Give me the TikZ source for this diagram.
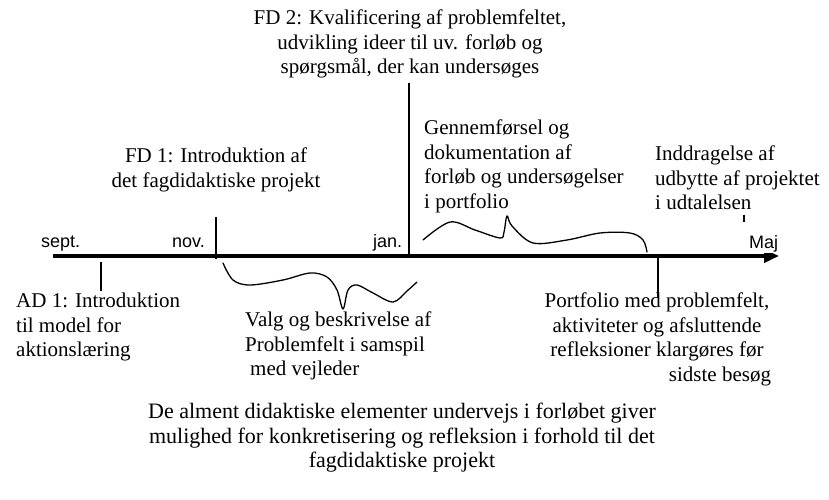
\documentclass[tikz,border=0pt]{standalone}
\usepackage{fontspec}
\setmainfont{Liberation Serif}
\setsansfont{Liberation Sans}
\usetikzlibrary{arrows.meta}
\begin{document}
\begin{tikzpicture}[x=1pt,y=-1pt,
  txt/.style={font=\fontsize{21}{24.5}\selectfont, inner sep=0pt},
  mon/.style={font=\sffamily\fontsize{18}{20}\selectfont, inner sep=0pt, anchor=base west},
  tickln/.style={line width=1.4pt},
  wave/.style={line width=1.3pt, line cap=round, line join=round}]
\useasboundingbox (0,0) rectangle (829,500);

% axis
\coordinate (axL) at (53,256);
\coordinate (axR) at (779,256);
\draw[line width=4.5pt, -{Triangle[length=15pt,width=13pt]}] (axL) -- (axR);

% ticks
\coordinate (t1a) at (101,262); \coordinate (t1b) at (101,291);
\coordinate (t2a) at (216,217); \coordinate (t2b) at (216,259);
\coordinate (t3a) at (409,83);  \coordinate (t3b) at (409,258);
\coordinate (t4a) at (658,258); \coordinate (t4b) at (658,298);
\coordinate (t5a) at (744,215); \coordinate (t5b) at (744,250);
\draw[tickln] (t1a) -- (t1b);
\draw[tickln] (t2a) -- (t2b);
\draw[tickln] (t3a) -- (t3b);
\draw[tickln] (t4a) -- (t4b);
\draw[tickln] (t5a) -- (t5b);

% wavy braces
\draw[wave] plot[smooth, tension=0.55] coordinates {(223,263) (233,280) (250,285) (283,280) (310,273) (327,277) (337,290) (343,309) (348,290) (357,285) (373,293) (393,302) (407,291) (417,282)};
\draw[wave] plot[smooth, tension=0.55] coordinates {(423,240) (450,222) (475,230) (500,238) (504,232) (507,216) (512,226) (533,243) (567,240) (600,233) (630,233) (643,240) (647,252)};

% month labels
\node[mon] (sept) at (41,247) {sept.};
\node[mon] (nov) at (172,247) {nov.};
\node[mon] (jan) at (373,247) {jan.};
\node[mon, fill=white, inner xsep=3pt, text height=26pt, text depth=5pt] (maj) at (735,248) {\hspace*{11pt}Maj};

% texts
\node[txt, anchor=north, align=center] (fd2) at (410,10) {FD 2: Kvalificering af problemfeltet,\\udvikling ideer til uv. forløb og\\spørgsmål, der kan undersøges};
\node[txt, anchor=north, align=center] (fd1) at (216,148) {FD 1: Introduktion af\\det fagdidaktiske projekt};
\node[txt, anchor=north west, align=left] (gen) at (424,120) {Gennemførsel og\\dokumentation af\\forløb og undersøgelser\\i portfolio};
\node[txt, anchor=north west, align=left] (ind) at (655,146) {Inddragelse af\\udbytte af projektet\\i udtalelsen};
\node[txt, anchor=north west, align=left] (ad1) at (16,293) {AD 1: Introduktion\\til model for\\aktionslæring};
\node[txt, anchor=north west, align=left] (valg) at (245,312) {Valg og beskrivelse af\\Problemfelt i samspil\\\hspace*{5pt}med vejleder};
\node[txt, anchor=north, align=center] (port) at (657,293) {Portfolio med problemfelt,\\aktiviteter og afsluttende\\refleksioner klargøres før\\\hspace*{126pt}sidste besøg};
\node[txt, font=\fontsize{22}{24.5}\selectfont, anchor=north, align=center] (alm) at (402,403) {De alment didaktiske elementer undervejs i forløbet giver\\mulighed for konkretisering og refleksion i forhold til det\\fagdidaktiske projekt};
\end{tikzpicture}
\end{document}
